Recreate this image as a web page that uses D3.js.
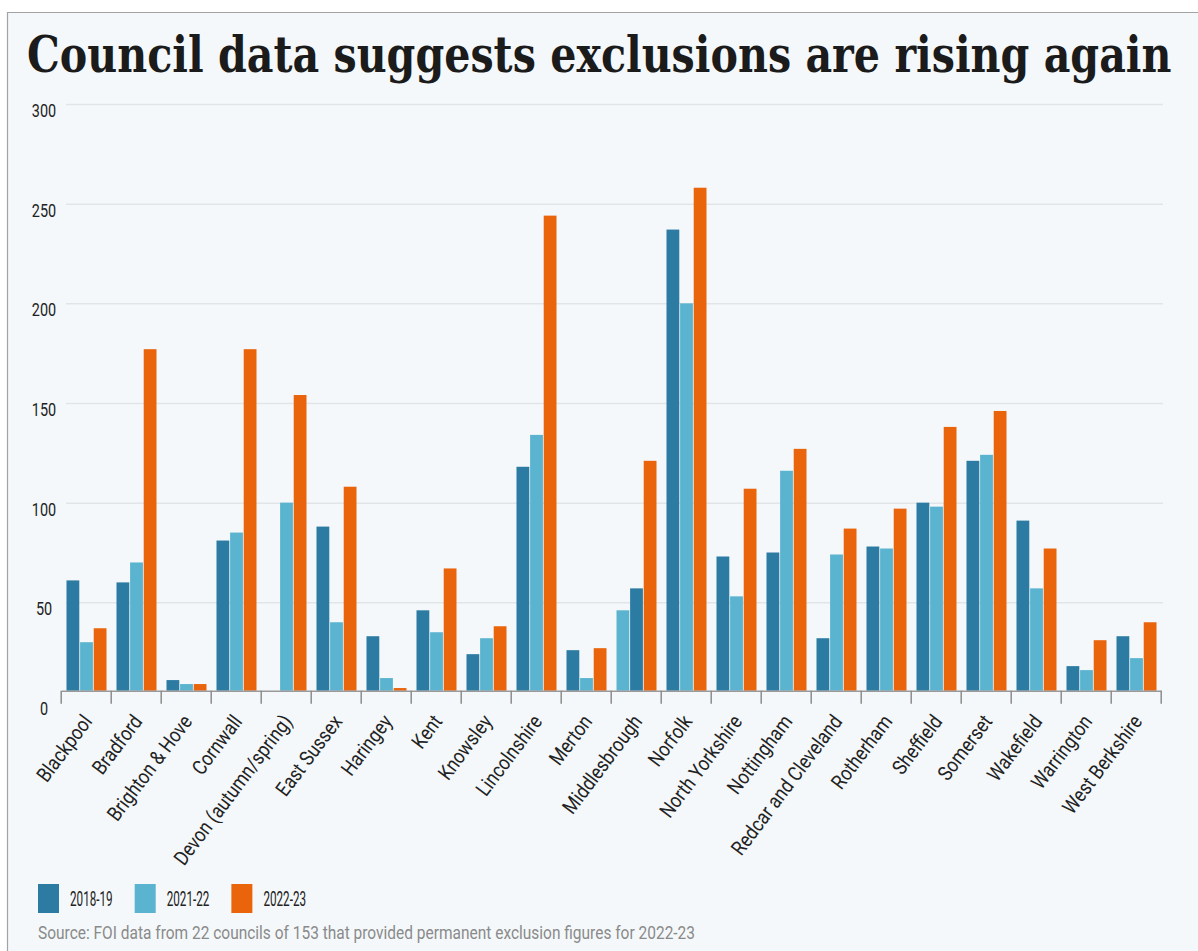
<!DOCTYPE html>
<html>
<head>
<meta charset="utf-8">
<script src="https://cdn.jsdelivr.net/npm/d3@7"></script>
<style>
  body { margin: 0; background: #fff; }
  svg { display: block; }
</style>
</head>
<body>
<svg></svg>
<script>
const councils = ["Blackpool", "Bradford", "Brighton & Hove", "Cornwall", "Devon (autumn/spring)",
  "East Sussex", "Haringey", "Kent", "Knowsley", "Lincolnshire", "Merton", "Middlesbrough",
  "Norfolk", "North Yorkshire", "Nottingham", "Redcar and Cleveland", "Rotherham", "Sheffield",
  "Somerset", "Wakefield", "Warrington", "West Berkshire"];
const years = ["2018-19", "2021-22", "2022-23"];
const excl1819 = [61, 60, 11, 81, null, 88, 33, 46, 24, 118, 26, 46, 237, 73, 75, 32, 78, 100, 121, 91, 18, 33];
const excl2122 = [30, 70, 9, 85, 100, 40, 12, 35, 32, 134, 12, 57, 200, 53, 116, 74, 77, 98, 124, 57, 16, 22];
const excl2223 = [37, 177, 9, 177, 154, 108, 7, 67, 38, 244, 27, 121, 258, 107, 127, 87, 97, 138, 146, 77, 31, 40];
const yTicks = [0, 50, 100, 150, 200, 250, 300];
// in the original, Middlesbrough's first two bars have their colours swapped
const swappedColours = ["Middlesbrough"];

const title = "Council data suggests exclusions are rising again";
const source = "Source: FOI data from 22 councils of 153 that provided permanent exclusion figures for 2022-23";

const width = 1198;
const height = 951;
const colours = ["#2c7ba3", "#5ab3cf", "#ea640b"];
const axisY = 690.7;
const labelFont = "Roboto, 'Liberation Sans', sans-serif";

const svg = d3.select("svg")
    .attr("width", width)
    .attr("height", height);

// Panel with its top and left border
svg.append("rect")
    .attr("x", 7.5).attr("y", 12.5)
    .attr("width", width).attr("height", height)
    .attr("fill", "#f4f8fa");
svg.append("path")
    .attr("d", `M7.5,${height}V12.5H${width}`)
    .attr("fill", "none")
    .attr("stroke", "#a3a3a3")
    .attr("stroke-width", 1.2);

// Title, squeezed horizontally to the width it has in the original
const titleText = svg.append("text")
    .attr("font-family", "'DejaVu Serif', 'Liberation Serif', serif")
    .attr("font-weight", "bold")
    .attr("font-size", 50)
    .attr("fill", "#1b1b1b")
    .text(title);
const titleScale = 1145 / titleText.node().getComputedTextLength();
titleText.attr("transform", `translate(27,72) scale(${titleScale},1)`);

// Scales
const xScale = d3.scaleBand()
    .domain(councils)
    .range([61.2, 1161.2]);

const x1 = d3.scaleBand()
    .domain(years)
    .range([0, 40])
    .paddingInner(0.06);

const yScale = d3.scaleLinear()
    .domain([0, 300])
    .range([702, 104]);

// Y axis with gridlines
const yAxis = d3.axisLeft(yScale)
    .tickValues(yTicks)
    .tickSize(-(1163 - 66));

svg.append("g")
    .attr("transform", "translate(66,0)")
    .call(yAxis)
    .call(g => g.select(".domain").remove())
    .call(g => g.selectAll(".tick line")
        .attr("stroke", "#e1e5e8")
        .attr("stroke-width", 1.5)
        .attr("display", d => d === 0 ? "none" : null))
    .call(g => g.selectAll(".tick text")
        .attr("x", null)
        .attr("dy", null)
        .attr("text-anchor", "middle")
        .attr("transform", "translate(-22,12.5) scale(0.76,1)")
        .attr("font-family", labelFont)
        .attr("font-size", 19)
        .attr("fill", "#222"));

// Bars
const rows = councils.map((c, i) => ({ council: c, values: [excl1819[i], excl2122[i], excl2223[i]] }));

const groups = svg.append("g")
    .selectAll("g")
    .data(rows)
    .enter()
    .append("g")
    .attr("transform", d => `translate(${xScale(d.council) + 5.3},0)`);

groups.selectAll("rect")
    .data(d => d.values.map((v, j) => ({
        year: years[j],
        value: v,
        colour: swappedColours.includes(d.council) && j < 2 ? colours[1 - j] : colours[j]
    })).filter(b => b.value != null))
    .enter()
    .append("rect")
    .attr("x", b => x1(b.year))
    .attr("y", b => yScale(b.value))
    .attr("width", x1.bandwidth())
    .attr("height", b => axisY - yScale(b.value))
    .attr("fill", b => b.colour);

// X axis: baseline, boundary ticks and rotated labels
const xAxis = d3.axisBottom(xScale).tickSize(0);

const xg = svg.append("g")
    .attr("transform", `translate(0,${axisY})`)
    .call(xAxis);

xg.select(".domain")
    .attr("stroke", "#9a9a9a")
    .attr("stroke-width", 1.5);

xg.selectAll(".tick text")
    .attr("y", null)
    .attr("dy", null)
    .attr("text-anchor", "end")
    .attr("transform", "translate(7,31) rotate(-53) scale(0.86,1)")
    .attr("font-family", labelFont)
    .attr("font-size", 20.5)
    .attr("fill", "#222");

xg.selectAll(".boundary")
    .data(d3.range(councils.length + 1))
    .enter()
    .append("line")
    .attr("class", "boundary")
    .attr("x1", i => xScale.range()[0] + i * xScale.step())
    .attr("x2", i => xScale.range()[0] + i * xScale.step())
    .attr("y1", 0)
    .attr("y2", 13)
    .attr("stroke", "#8c8c8c")
    .attr("stroke-width", 1.5);

// Legend
let lx = 38;
years.forEach((yr, j) => {
    svg.append("rect")
        .attr("x", lx).attr("y", 884)
        .attr("width", 21).attr("height", 29)
        .attr("fill", colours[j]);
    const t = svg.append("text")
        .attr("transform", `translate(${lx + 32},905.5) scale(0.6,1)`)
        .attr("font-family", labelFont)
        .attr("font-size", 19.5)
        .attr("fill", "#222")
        .text(yr);
    lx += 32 + t.node().getComputedTextLength() * 0.6 + 22;
});

// Source
svg.append("text")
    .attr("x", 38).attr("y", 939)
    .attr("font-family", labelFont)
    .attr("font-size", 18.5)
    .attr("fill", "#8a8a8a")
    .attr("textLength", 657)
    .attr("lengthAdjust", "spacingAndGlyphs")
    .text(source);
</script>
</body>
</html>
